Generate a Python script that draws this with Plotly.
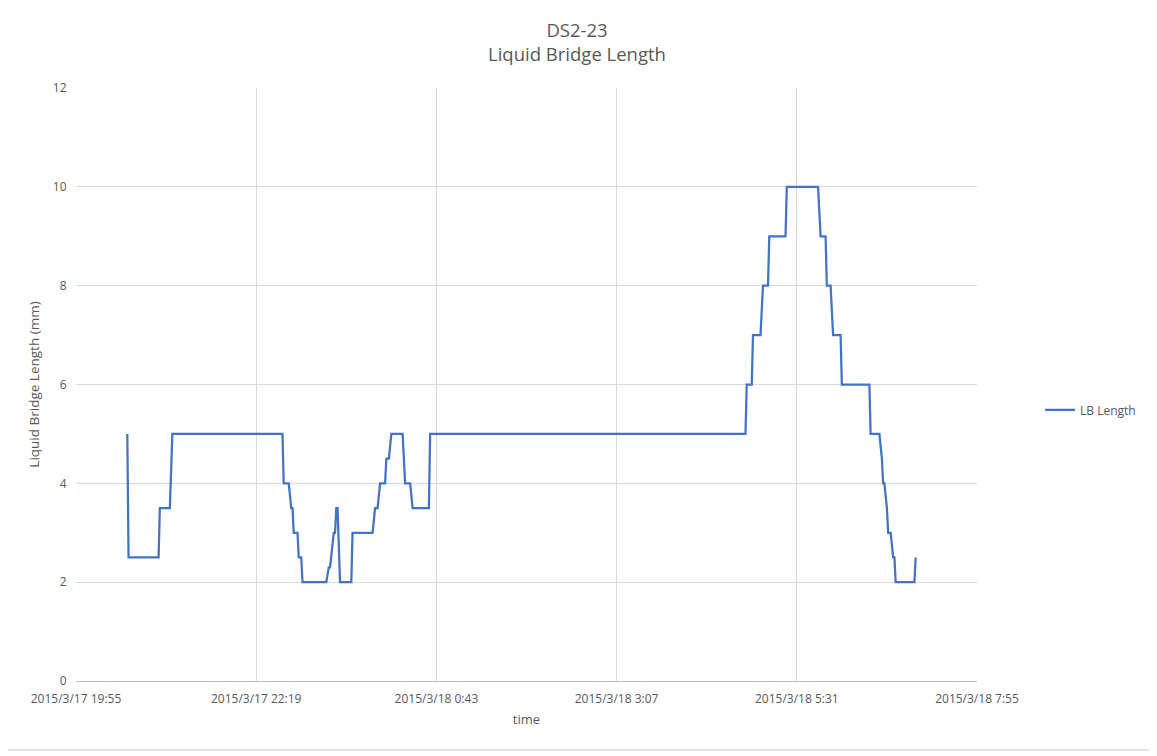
import pandas as pd
import plotly.graph_objects as go

# LB Length readings (step changes)
times = [
    "2015-03-17 20:36", "2015-03-17 20:37", "2015-03-17 21:01", "2015-03-17 21:02",
    "2015-03-17 21:10", "2015-03-17 21:12", "2015-03-17 22:40", "2015-03-17 22:41",
    "2015-03-17 22:45", "2015-03-17 22:47", "2015-03-17 22:48", "2015-03-17 22:49",
    "2015-03-17 22:52", "2015-03-17 22:53", "2015-03-17 22:55", "2015-03-17 22:56",
    "2015-03-17 23:15", "2015-03-17 23:17", "2015-03-17 23:18", "2015-03-17 23:21",
    "2015-03-17 23:22", "2015-03-17 23:23", "2015-03-17 23:24", "2015-03-17 23:26",
    "2015-03-17 23:35", "2015-03-17 23:36", "2015-03-17 23:52", "2015-03-17 23:54",
    "2015-03-17 23:56", "2015-03-17 23:58", "2015-03-18 00:02", "2015-03-18 00:03",
    "2015-03-18 00:05", "2015-03-18 00:07", "2015-03-18 00:16", "2015-03-18 00:18",
    "2015-03-18 00:22", "2015-03-18 00:24", "2015-03-18 00:37", "2015-03-18 00:38",
    "2015-03-18 04:50", "2015-03-18 04:51", "2015-03-18 04:55", "2015-03-18 04:56",
    "2015-03-18 05:02", "2015-03-18 05:04", "2015-03-18 05:08", "2015-03-18 05:09",
    "2015-03-18 05:22", "2015-03-18 05:23", "2015-03-18 05:48", "2015-03-18 05:50",
    "2015-03-18 05:54", "2015-03-18 05:55", "2015-03-18 05:58", "2015-03-18 06:00",
    "2015-03-18 06:06", "2015-03-18 06:07", "2015-03-18 06:29", "2015-03-18 06:30",
    "2015-03-18 06:37", "2015-03-18 06:39", "2015-03-18 06:40", "2015-03-18 06:41",
    "2015-03-18 06:43", "2015-03-18 06:44", "2015-03-18 06:46", "2015-03-18 06:48",
    "2015-03-18 06:49", "2015-03-18 06:50", "2015-03-18 07:05", "2015-03-18 07:06",
]
lb_length = [
    5, 2.5, 2.5, 3.5,
    3.5, 5, 5, 4,
    4, 3.5, 3.5, 3,
    3, 2.5, 2.5, 2,
    2, 2.3, 2.3, 3,
    3, 3.5, 3.5, 2,
    2, 3, 3, 3.5,
    3.5, 4, 4, 4.5,
    4.5, 5, 5, 4,
    4, 3.5, 3.5, 5,
    5, 6, 6, 7,
    7, 8, 8, 9,
    9, 10, 10, 9,
    9, 8, 8, 7,
    7, 6, 6, 5,
    5, 4.5, 4, 4,
    3.5, 3, 3, 2.5,
    2.5, 2, 2, 2.5,
]

# x axis: Excel-style ticks every 2h24m
x_start = pd.Timestamp("2015-03-17 19:55")
x_ticks = [x_start + pd.Timedelta(minutes=144 * k) for k in range(6)]
x_tick_labels = ["2015/3/17 19:55", "2015/3/17 22:19", "2015/3/18 0:43",
                 "2015/3/18 3:07", "2015/3/18 5:31", "2015/3/18 7:55"]
y_ticks = [0, 2, 4, 6, 8, 10, 12]

font_family = "Open Sans, Liberation Sans, sans-serif"
text_color = "#595959"
grid_color = "#d9d9d9"

fig = go.Figure()
fig.add_trace(go.Scatter(
    x=pd.to_datetime(times),
    y=lb_length,
    mode="lines",
    name="LB Length",
    line=dict(color="#4472C4", width=2.25),
))

# page body adds an 8px offset, so margins are trimmed by 8 on the left/top
fig.update_layout(
    width=1157,
    height=756,
    paper_bgcolor="white",
    plot_bgcolor="white",
    margin=dict(l=68, r=188, t=80, b=83),
    font=dict(family=font_family, color=text_color, size=12),
    title=dict(
        text="DS2-23<br>Liquid Bridge Length",
        x=0.4918, xanchor="center",
        y=0.962, yanchor="top",
        font=dict(size=18.5, color=text_color),
    ),
    showlegend=True,
    legend=dict(
        x=1.07, xanchor="left",
        y=0.457, yanchor="middle",
        font=dict(size=12, color=text_color),
        bgcolor="rgba(0,0,0,0)",
    ),
)

fig.update_xaxes(
    range=[x_ticks[0], x_ticks[-1]],
    tickvals=x_ticks,
    ticktext=x_tick_labels,
    showgrid=True,
    gridcolor=grid_color,
    gridwidth=1,
    zeroline=False,
    showline=True,
    linecolor="#bfbfbf",
    linewidth=1,
    ticks="outside",
    ticklen=7,
    tickcolor="rgba(0,0,0,0)",
    tickfont=dict(size=12, color=text_color),
    title=dict(text="time", font=dict(size=13, color=text_color), standoff=8),
)

fig.update_yaxes(
    range=[0, 12],
    tickvals=y_ticks,
    showgrid=True,
    gridcolor=grid_color,
    gridwidth=1,
    zeroline=False,
    showline=False,
    ticks="outside",
    ticklen=6,
    tickcolor="rgba(0,0,0,0)",
    tickfont=dict(size=12, color=text_color),
    title=dict(text="Liquid Bridge Length (mm)", font=dict(size=13.5, color=text_color), standoff=10),
)

# outer chart frame like the spreadsheet chart border
fig.add_shape(
    type="rect", xref="paper", yref="paper",
    x0=-71 / 901, x1=1075 / 901, y0=-69 / 593, y1=1 + 84 / 593,
    line=dict(color="#d9d9d9", width=1.5),
    fillcolor="rgba(0,0,0,0)",
    layer="below",
)

fig.write_html("out.html")
